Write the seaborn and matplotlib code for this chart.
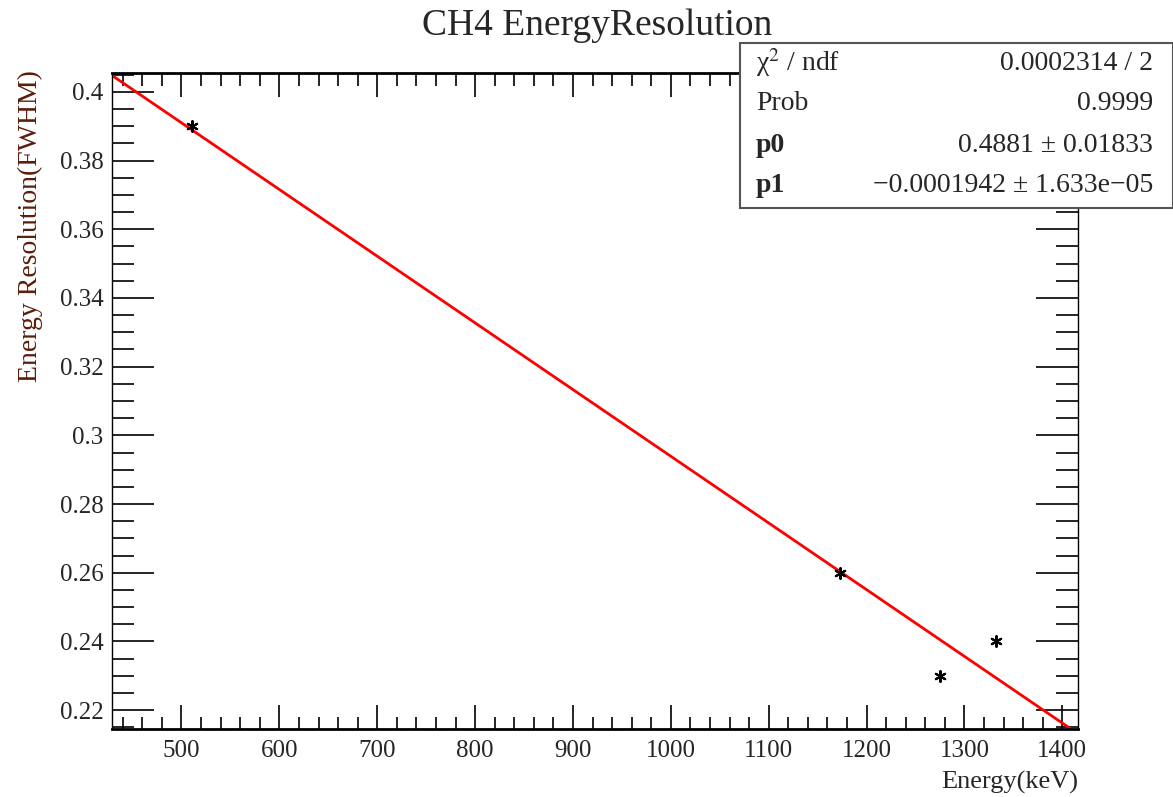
import numpy as np
import pandas as pd
import matplotlib
matplotlib.use("Agg")
import matplotlib.pyplot as plt
import seaborn as sns
from matplotlib.ticker import MultipleLocator, FuncFormatter
from matplotlib.patches import Rectangle

# ---- data ----
energy_keV = [511.0, 1173.2, 1274.5, 1332.5]
resolution = [0.390, 0.260, 0.230, 0.240]

fit_p0 = 0.4881
fit_p1 = -0.0001942
stats_names = ["χ$^2$ / ndf", "Prob", "p0", "p1"]
stats_values = ["0.0002314 / 2", "0.9999", "0.4881 ± 0.01833", "−0.0001942 ± 1.633e−05"]

x_range = [429, 1416]
y_range = [0.2145, 0.4055]

sns.set_theme(style="white")
plt.rcParams['font.family'] = ['Liberation Serif', 'DejaVu Serif']
plt.rcParams['mathtext.fontset'] = 'stix'

fig = plt.figure(figsize=(11.73, 7.97), dpi=100)
ax = fig.add_axes([112/1173, 1-729/797, (1078-112)/1173, (729-73)/797])

df = pd.DataFrame({"Energy": energy_keV, "Res": resolution})
xf = np.linspace(x_range[0], x_range[1], 200)
fit_df = pd.DataFrame({"Energy": xf, "Res": fit_p0 + fit_p1 * xf})

sns.lineplot(data=fit_df, x="Energy", y="Res", color="#ff0000", lw=2, ax=ax, zorder=2)
sns.scatterplot(data=df, x="Energy", y="Res", marker=(6, 2, 0), s=60, color="black",
                linewidth=1.5, edgecolor="black", ax=ax, zorder=3)

ax.set_xlim(*x_range)
ax.set_ylim(*y_range)
ax.xaxis.set_major_locator(MultipleLocator(100))
ax.xaxis.set_minor_locator(MultipleLocator(20))
ax.yaxis.set_major_locator(MultipleLocator(0.02))
ax.yaxis.set_minor_locator(MultipleLocator(0.005))
ax.yaxis.set_major_formatter(FuncFormatter(lambda v, p: "%g" % round(v, 3)))
ax.tick_params(axis='both', which='both', direction='in', top=True, right=True,
               bottom=True, left=True, labelsize=18, color='black')
ax.tick_params(axis='x', which='major', length=17, width=1.2, pad=8)
ax.tick_params(axis='x', which='minor', length=9, width=1.2)
ax.tick_params(axis='y', which='major', length=30, width=1.2, pad=6)
ax.tick_params(axis='y', which='minor', length=16, width=1.2)
for s in ax.spines.values():
    s.set_linewidth(1.0)
    s.set_color('black')
ax.spines['bottom'].set_linewidth(2)
ax.spines['top'].set_linewidth(2)

ax.set_xlabel("")
ax.set_ylabel("")
fig.text(1078/1173, 1-782/797, "Energy(keV)", ha='right', va='center', fontsize=19)
fig.text(30/1173, 1-70/797, "Energy Resolution(FWHM)", rotation=90, ha='center', va='top',
         fontsize=20, color='#5a1e0a')
fig.text(597/1173, 1-26/797, "CH4 EnergyResolution", ha='center', va='center', fontsize=27)

# stats box
bx0, by0, bx1, by1 = 740/1173, 1-208/797, 1.0, 1-43/797
fig.patches.append(Rectangle((bx0, by0), bx1-bx0, by1-by0, transform=fig.transFigure,
                             facecolor='white', edgecolor='#555555', lw=1.5, zorder=5))
row_y = [63, 103, 145, 186]
for name, val, yy in zip(stats_names, stats_values, row_y):
    fig.text(756/1173, 1-yy/797, name, ha='left', va='center', fontsize=20,
             fontweight='bold' if name in ("p0", "p1") else 'normal', zorder=6)
    fig.text(1153/1173, 1-yy/797, val, ha='right', va='center', fontsize=20, zorder=6)

fig.savefig("out.png", dpi=100)
